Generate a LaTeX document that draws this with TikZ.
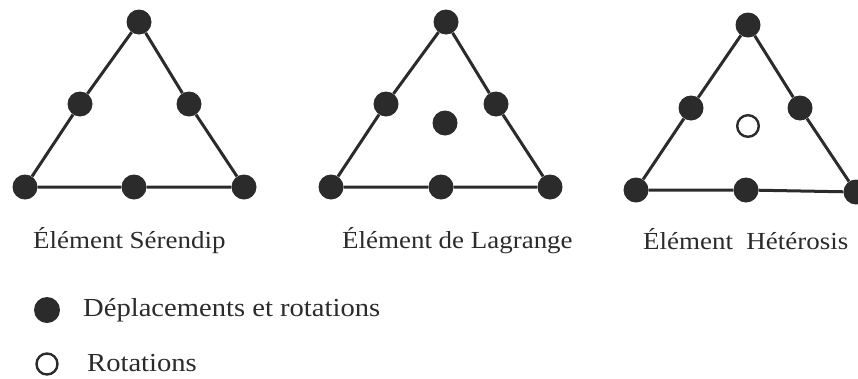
\documentclass[tikz,border=0pt]{standalone}
\usepackage{fontspec}
\setmainfont{Liberation Serif}[FakeStretch=1.1]
\definecolor{ink}{HTML}{2B2B2B}
\begin{document}
\begin{tikzpicture}[x=1pt,y=1pt,
  dof/.style={circle,fill=ink,draw=none,inner sep=0pt,minimum size=25pt},
  rot/.style={circle,fill=white,draw=ink,line width=2.4pt,inner sep=0pt,minimum size=21.6pt},
  edge/.style={draw=ink,line width=3pt},
  lab/.style={anchor=base west,inner sep=0pt,text=ink,font=\fontsize{24.5}{28}\selectfont},
  leg/.style={anchor=base west,inner sep=0pt,text=ink,font=\fontsize{26}{30}\selectfont}]
\useasboundingbox (0,0) rectangle (858,-378);
% Serendip
\node[dof] (a1) at (139,-22) {};
\node[dof] (a2) at (80,-104) {};
\node[dof] (a3) at (25,-187) {};
\node[dof] (a4) at (134,-187) {};
\node[dof] (a5) at (244,-187) {};
\node[dof] (a6) at (189,-104) {};
\draw[edge] (a1) -- (a2) -- (a3) -- (a4) -- (a5) -- (a6) -- (a1);
% Lagrange
\node[dof] (b1) at (446,-22) {};
\node[dof] (b2) at (386,-104) {};
\node[dof] (b3) at (331,-187) {};
\node[dof] (b4) at (441,-187) {};
\node[dof] (b5) at (550,-187) {};
\node[dof] (b6) at (496,-104) {};
\node[dof] (b7) at (445,-123) {};
\draw[edge] (b1) -- (b2) -- (b3) -- (b4) -- (b5) -- (b6) -- (b1);
% Heterosis
\node[dof] (c1) at (748,-25) {};
\node[dof] (c2) at (691,-108) {};
\node[dof] (c3) at (636,-190) {};
\node[dof] (c4) at (746,-190) {};
\node[dof] (c5) at (856,-192) {};
\node[dof] (c6) at (800,-108) {};
\node[rot] (c7) at (748,-126) {};
\draw[edge] (c1) -- (c2) -- (c3) -- (c4) -- (c5) -- (c6) -- (c1);
% labels
\node[lab] (l1) at (33,-248) {Élément Sérendip};
\node[lab] (l2) at (342,-248) {Élément de Lagrange};
\node[lab] (l3) at (643,-249) {Élément\ \ Hétérosis};
% legend
\node[dof,minimum size=26pt] (k1) at (47,-310) {};
\node[leg] (t1) at (83,-316) {Déplacements et rotations};
\node[rot,minimum size=21pt] (k2) at (47,-364) {};
\node[leg] (t2) at (87,-371) {Rotations};
\end{tikzpicture}
\end{document}
